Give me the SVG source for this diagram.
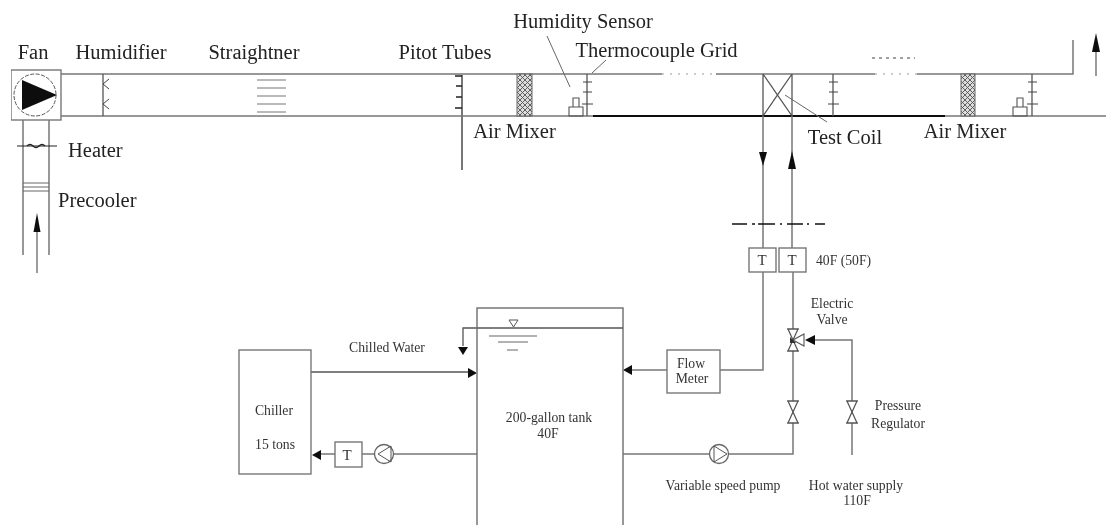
<svg xmlns="http://www.w3.org/2000/svg" width="1106" height="525" viewBox="0 0 1106 525">
<style>
text{font-family:"Liberation Serif","Times New Roman",serif;fill:#222}
.l{font-size:20.5px}
.s{font-size:13.7px;fill:#333}
.m{font-size:15px;fill:#333}
.c{text-anchor:middle}
.p{fill:none;stroke:#777;stroke-width:1.5}
.d{fill:none;stroke:#555;stroke-width:1.3}
.t{fill:none;stroke:#444;stroke-width:1}
.a{fill:#111;stroke:none}
.f{fill:#fff;stroke:#777;stroke-width:1.4}
.v{fill:#fff;stroke:#555;stroke-width:1.2}
</style>
<defs>
<filter id="soft" x="0" y="0" width="100%" height="100%"><feGaussianBlur stdDeviation="0.4"/></filter>
<pattern id="hatch" width="5" height="5" patternUnits="userSpaceOnUse">
<rect width="5" height="5" fill="#ddd"/>
<path d="M0 0L5 5M5 0L0 5" stroke="#555" stroke-width="0.9"/>
</pattern>
<path id="sp" d="M-7 0H7V9H-7ZM-3 0V-9H3V0" fill="none" stroke="#555" stroke-width="1.1"/>
<g id="valve"><path class="v" d="M-5 -11H5L-5 11H5Z"/><path d="M-6 -11H6M-6 11H6" stroke="#555" stroke-width="1"/></g>
<g id="pump"><circle r="9.500" fill="#fff" stroke="#666" stroke-width="1.3"/></g>
</defs>
<rect width="1106" height="525" fill="#fff"/>
<g id="diagram" filter="url(#soft)">

<g id="connectors">
<path class="p" d="M61 74H662M716 74H875M917 74H1073V40"/>
<path d="M662 74H716M875 74H917" stroke="#999" stroke-width="1" stroke-dasharray="2 6" fill="none"/>
<path d="M872 58H915" stroke="#444" stroke-width="1" stroke-dasharray="3 4" fill="none"/>
<path class="p" d="M61 116H594M945 116H1106"/>
<path d="M593 116H945" stroke="#111" stroke-width="1.800" fill="none"/>
<path class="p" d="M23 120V255M49 120V255"/>
<path d="M37 273V228" stroke="#666" stroke-width="1.300"/>
<path class="a" d="M37 213L40.500 232H33.500Z"/>
<path d="M1096 76V45" stroke="#666" stroke-width="1.300"/>
<path class="a" d="M1096 33L1100 52H1092Z"/>
<path class="p" d="M763 116V248M763 272V370H720"/>
<path class="p" d="M792 116V248M793 272V454H729M710 454H623"/>
<path class="a" d="M763 166L759 152H767Z"/>
<path class="a" d="M792 151L796 169H788Z"/>
<path d="M732 224H747M752 224H755M758 224H775M780 224H782M787 224H803M807 224H809M815 224H825" stroke="#111" stroke-width="1.600" fill="none"/>
<path class="p" d="M667 370H632"/>
<path class="a" d="M623 370L632 365V375Z"/>
<path class="p" d="M852 455V340H812"/>
<path class="a" d="M805 340L815 335V345Z"/>
<path class="d" d="M477 328H463V346"/>
<path class="a" d="M463 355L458 347H468Z"/>
<path class="d" d="M311 372H470"/>
<path class="a" d="M477 373L468 368V378Z"/>
<path class="p" d="M477 454H394M375 454H362M335 454H320"/>
<path class="a" d="M312 455L321 450V460Z"/>
</g>

<g id="fan">
<rect x="11" y="70" width="50" height="50" fill="#fff" stroke="#777" stroke-width="1.400"/>
<circle cx="35" cy="95" r="21" fill="none" stroke="#555" stroke-width="1" stroke-dasharray="4 1.500"/>
<path d="M22 80L57 95L22 110Z" fill="#111"/>
<text class="l c" x="33" y="59">Fan</text>
</g>

<g id="humidifier">
<path class="d" d="M103 74V116"/>
<path class="t" d="M103 84L109 79M103 84L109 89M103 104L109 99M103 104L109 109"/>
<text class="l c" x="121" y="59">Humidifier</text>
</g>

<g id="straightner">
<path d="M257 80H286M257 88H286M257 96H286M257 104H286M257 112H286" stroke="#777" stroke-width="1.100" fill="none"/>
<text class="l c" x="254" y="59">Straightner</text>
</g>

<g id="pitot-tubes">
<path d="M462 75V170" stroke="#777" stroke-width="2"/>
<path d="M462 76H455M462 86H456M462 97H456M462 108H455" stroke="#222" stroke-width="1.300" fill="none"/>
<text class="l c" x="445" y="59">Pitot Tubes</text>
</g>

<g id="air-mixer-1">
<rect x="517" y="74" width="15" height="42" fill="url(#hatch)" stroke="#666"/>
<text class="l c" x="514.500" y="138">Air Mixer</text>
</g>

<g id="humidity-sensor-1">
<use href="#sp" x="576" y="107"/>
<path d="M547 36L570 87" stroke="#666" stroke-width="1" fill="none"/>
<text class="l c" x="583" y="28">Humidity Sensor</text>
</g>

<g id="thermocouple-grid-1">
<path class="d" d="M587 74V116"/>
<path class="t" d="M583 82H592M583 92H592M582 104H593"/>
<path d="M592 73L606 60" stroke="#666" stroke-width="1" fill="none"/>
<text class="l c" x="656.500" y="57">Thermocouple Grid</text>
</g>

<g id="test-coil">
<path class="d" d="M763 74V116M792 74V116M763 74L792 116M792 74L763 116"/>
<path d="M785 95L827 122" stroke="#666" stroke-width="1" fill="none"/>
<text class="l c" x="845" y="144">Test Coil</text>
</g>

<g id="thermocouple-grid-2">
<path class="d" d="M833 74V116"/>
<path class="t" d="M829 82H838M829 92H838M828 104H839"/>
</g>

<g id="air-mixer-2">
<rect x="961" y="74" width="14" height="42" fill="url(#hatch)" stroke="#666"/>
<text class="l c" x="965" y="138">Air Mixer</text>
</g>

<g id="humidity-sensor-2">
<use href="#sp" x="1020" y="107"/>
</g>

<g id="thermocouple-grid-3">
<path class="d" d="M1032 74V116"/>
<path class="t" d="M1028 82H1037M1028 92H1037M1027 104H1038"/>
</g>

<g id="heater">
<path d="M17 146H57" stroke="#222" stroke-width="1.200"/>
<path d="M27 146Q30 143 33 146T39 146T45 146" fill="none" stroke="#222" stroke-width="1.400"/>
<text class="l" x="68" y="157">Heater</text>
</g>

<g id="precooler">
<path d="M23 183H49M23 187H49M23 191H49" stroke="#666" stroke-width="1" fill="none"/>
<text class="l" x="58" y="207">Precooler</text>
</g>

<g id="t-return">
<rect class="f" x="749" y="248" width="27" height="24"/>
<text class="m c" x="762" y="265">T</text>
</g>
<g id="t-supply">
<rect class="f" x="779" y="248" width="27" height="24"/>
<text class="m c" x="792" y="265">T</text>
<text class="s" x="816" y="265">40F (50F)</text>
</g>

<g id="electric-valve">
<use href="#valve" x="793" y="340"/>
<path d="M793 340L804 334V346Z" fill="#fff" stroke="#555" stroke-width="1.100"/>
<path d="M790 337L796 343L790 343Z" fill="#333"/>
<text class="s c" x="832" y="308">Electric</text>
<text class="s c" x="832" y="324">Valve</text>
</g>

<g id="valve-lower"><use href="#valve" x="793" y="412"/></g>

<g id="pressure-regulator">
<use href="#valve" x="852" y="412"/>
<text class="s c" x="898" y="410">Pressure</text>
<text class="s c" x="898" y="428">Regulator</text>
</g>

<g id="hot-water">
<text class="s c" x="856" y="490">Hot water supply</text>
<text class="s c" x="857" y="505">110F</text>
</g>

<g id="variable-pump">
<use href="#pump" x="719" y="454"/>
<path d="M714 446V462L727 454Z" fill="none" stroke="#555"/>
<text class="s c" x="723" y="490">Variable speed pump</text>
</g>

<g id="flow-meter">
<rect class="f" x="667" y="350" width="53" height="43"/>
<text class="s c" x="691" y="368">Flow</text>
<text class="s c" x="692" y="383">Meter</text>
</g>

<g id="tank">
<path class="p" d="M477 525V308H623V525"/>
<path class="d" d="M477 328H623"/>
<path d="M509 320H518L513.500 327Z" fill="#fff" stroke="#555"/>
<path d="M489 336H537M498 342H528M507 350H518" stroke="#666" stroke-width="1.100" fill="none"/>
<text class="s c" x="549" y="422">200-gallon tank</text>
<text class="s c" x="548" y="438">40F</text>
</g>

<g id="chiller">
<rect x="239" y="350" width="72" height="124" fill="#fff" stroke="#777" stroke-width="1.400"/>
<text class="s c" x="274" y="415">Chiller</text>
<text class="s c" x="275" y="449">15 tons</text>
<text class="s c" x="387" y="352">Chilled Water</text>
</g>

<g id="t-chiller">
<rect class="f" x="335" y="442" width="27" height="25"/>
<text class="m c" x="347" y="460">T</text>
</g>

<g id="chiller-pump">
<use href="#pump" x="384" y="454"/>
<path d="M391 446V462L378 454Z" fill="none" stroke="#555"/>
</g>
</g>
</svg>
